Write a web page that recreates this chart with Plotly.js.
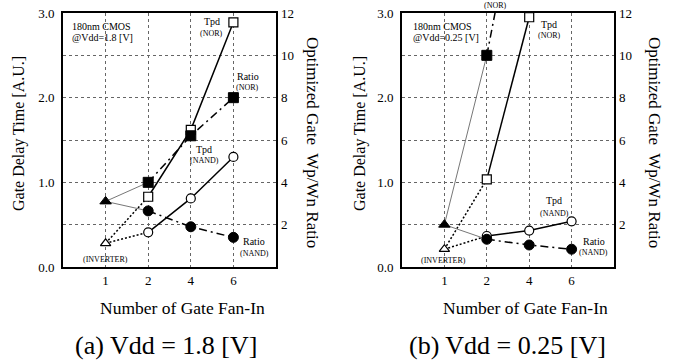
<!DOCTYPE html>
<html><head><meta charset="utf-8">
<script src="https://cdn.plot.ly/plotly-3.0.1.min.js"></script>
<style>html,body{margin:0;padding:0;background:#fff}#c{width:677px;height:362px}</style>
</head><body><div id="c"></div>
<script>
// ---- data ----
const fanInLabels = ['1','2','4','6'];
const fanInPos = [1,2,3,4];          // axis positions for 1,2,4,6
const gatePos = [2,3,4];             // positions for fan-in 2,4,6
const invPos = [1];

// (a) Vdd = 1.8 V
const a_tpdInv = [0.28];
const a_tpdNor = [0.83, 1.62, 2.89];
const a_tpdNand = [0.41, 0.81, 1.30];
const a_ratioInv = [3.1];
const a_ratioNor = [4.0, 6.2, 8.0];
const a_ratioNand = [2.65, 1.9, 1.4];

// (b) Vdd = 0.25 V
const b_tpdInv = [0.21];
const b_tpdNor = [1.035, 2.95];
const b_tpdNand = [0.366, 0.43, 0.54];
const b_ratioInv = [2.0];
const b_ratioNor = [10.0, 20.3];
const b_ratioNand = [1.31, 1.04, 0.84];

const W = 677, H = 362;
const px = x => x / W, py = y => 1 - y / H;
const FONT = 'Liberation Serif';

function panelTraces(xa, ya, ya2, d) {
  const T = [];
  const thin = {color: '#777', width: 1};
  const dotted = {color: '#000', width: 1.5, dash: '2px,2px'};
  // connectors from inverter
  T.push({x: [invPos[0], gatePos[0]], y: [d.ratioInv[0], d.ratioNor[0]], xaxis: xa, yaxis: ya2, mode: 'lines', line: thin});
  T.push({x: [invPos[0], gatePos[0]], y: [d.ratioInv[0], d.ratioNand[0]], xaxis: xa, yaxis: ya2, mode: 'lines', line: thin});
  T.push({x: [invPos[0], gatePos[0]], y: [d.tpdInv[0], d.tpdNor[0]], xaxis: xa, yaxis: ya, mode: 'lines', line: dotted});
  T.push({x: [invPos[0], gatePos[0]], y: [d.tpdInv[0], d.tpdNand[0]], xaxis: xa, yaxis: ya, mode: 'lines', line: dotted});
  const openM = s => ({symbol: s, size: 9, color: '#fff', line: {color: '#000', width: 1.2}});
  const fillM = s => ({symbol: s, size: 10, color: '#000', line: {color: '#000', width: 1}});
  T.push({x: gatePos.slice(0, d.tpdNor.length), y: d.tpdNor, xaxis: xa, yaxis: ya, mode: 'lines+markers', line: {color: '#000', width: 1.5}, marker: openM('square')});
  T.push({x: gatePos, y: d.tpdNand, xaxis: xa, yaxis: ya, mode: 'lines+markers', line: {color: '#000', width: 1.5}, marker: openM('circle')});
  T.push({x: invPos, y: d.tpdInv, xaxis: xa, yaxis: ya, mode: 'markers', marker: openM('triangle-up')});
  T.push({x: gatePos.slice(0, d.ratioNor.length), y: d.ratioNor, xaxis: xa, yaxis: ya2, mode: 'lines+markers', line: {color: '#000', width: 1.5, dash: '8px,4px,2px,4px'}, marker: fillM('square')});
  T.push({x: gatePos, y: d.ratioNand, xaxis: xa, yaxis: ya2, mode: 'lines+markers', line: {color: '#000', width: 1.5, dash: '8px,4px,2px,4px'}, marker: fillM('circle')});
  T.push({x: invPos, y: d.ratioInv, xaxis: xa, yaxis: ya2, mode: 'markers', marker: fillM('triangle-up')});
  return T;
}

const traces = [].concat(
  panelTraces('x', 'y', 'y2', {tpdInv: a_tpdInv, tpdNor: a_tpdNor, tpdNand: a_tpdNand, ratioInv: a_ratioInv, ratioNor: a_ratioNor, ratioNand: a_ratioNand}),
  panelTraces('x2', 'y3', 'y4', {tpdInv: b_tpdInv, tpdNor: b_tpdNor, tpdNand: b_tpdNand, ratioInv: b_ratioInv, ratioNor: b_ratioNor, ratioNand: b_ratioNand})
);
traces.forEach(t => { t.showlegend = false; t.hoverinfo = 'skip'; });

const yDom = [py(267), py(13)];
const xAxis = dom => ({domain: dom, range: [0, 5], tickvals: fanInPos, ticktext: fanInLabels,
  showgrid: true, gridcolor: '#666', gridwidth: 1, griddash: 'dot', zeroline: false,
  showline: true, mirror: true, linecolor: '#000', linewidth: 2, ticks: '', ticklabelstandoff: 0,
  tickfont: {family: FONT, size: 13, color: '#000'}, fixedrange: true});
const yLeft = anchor => ({domain: yDom, anchor: anchor, range: [0, 3], tickvals: [0, 0.5, 1, 1.5, 2, 2.5, 3],
  ticktext: ['0.0', '', '1.0', '', '2.0', '', '3.0'],
  showgrid: true, gridcolor: '#666', gridwidth: 1, griddash: 'dot', zeroline: false,
  showline: true, mirror: true, linecolor: '#000', linewidth: 2, ticks: '', ticklabelstandoff: 4,
  tickfont: {family: FONT, size: 13, color: '#000'}, fixedrange: true});
const yRight = (anchor, over) => ({domain: yDom, anchor: anchor, overlaying: over, side: 'right', range: [0, 12],
  tickvals: [2, 4, 6, 8, 10, 12], showgrid: false, zeroline: false, showline: false, ticks: '', ticklabelstandoff: 4,
  tickfont: {family: FONT, size: 13, color: '#000'}, fixedrange: true});

const anns = [];
function ann(text, x, y, size, extra) {
  anns.push(Object.assign({text: text, x: px(x), y: py(y), xref: 'paper', yref: 'paper', showarrow: false,
    font: {family: FONT, size: size, color: '#000'}, xanchor: 'center', yanchor: 'middle'}, extra || {}));
}
// panel a labels
ann('180nm CMOS', 70, 26, 10, {xanchor: 'left'});
ann('@Vdd=1.8 [V]', 70, 38, 10, {xanchor: 'left'});
ann('Tpd', 212, 22, 10); ann('(NOR)', 212, 33, 8);
ann('Ratio', 248, 76, 10); ann('(NOR)', 248, 87, 8);
ann('Tpd', 204, 149, 10); ann('(NAND)', 204, 161, 8);
ann('Ratio', 254, 241, 10); ann('(NAND)', 254, 253, 8);
ann('(INVERTER)', 106, 259, 8);
// panel b labels
ann('180nm CMOS', 411, 26, 10, {xanchor: 'left'});
ann('@Vdd=0.25 [V]', 411, 38, 10, {xanchor: 'left'});
ann('(NOR)', 496, 5, 8);
ann('Tpd', 549, 24, 10); ann('(NOR)', 549, 36, 8);
ann('Tpd', 554, 200, 10); ann('(NAND)', 554, 213, 8);
ann('Ratio', 594, 241, 10); ann('(NAND)', 593, 252, 8);
ann('(INVERTER)', 443, 260, 8);
// axis titles
ann('Number of Gate Fan-In', 183, 308, 17.5);
ann('Number of Gate Fan-In', 525, 308, 17.5);
ann('(a) Vdd = 1.8 [V]', 166, 345, 26);
ann('(b) Vdd = 0.25 [V]', 507, 345, 26);
ann('Gate Delay Time [A.U.]', 19, 134, 16, {textangle: -90});
ann('Gate Delay Time [A.U.]', 360, 134, 16, {textangle: -90});
ann('Optimized Gate  Wp/Wn Ratio', 313, 142, 17, {textangle: 90});
ann('Optimized Gate  Wp/Wn Ratio', 655, 142, 17, {textangle: 90});

const layout = {
  width: W, height: H, margin: {l: 0, r: 0, t: 0, b: 0},
  paper_bgcolor: '#fff', plot_bgcolor: '#fff', showlegend: false,
  font: {family: FONT, color: '#000'},
  xaxis: xAxis([px(63), px(276)]),
  yaxis: yLeft('x'),
  yaxis2: yRight('x', 'y'),
  xaxis2: Object.assign(xAxis([px(402), px(614)]), {anchor: 'y3'}),
  yaxis3: yLeft('x2'),
  yaxis4: yRight('x2', 'y3'),
  annotations: anns
};
layout.xaxis.anchor = 'y';
Plotly.newPlot('c', traces, layout, {staticPlot: true, displayModeBar: false});
</script></body></html>
